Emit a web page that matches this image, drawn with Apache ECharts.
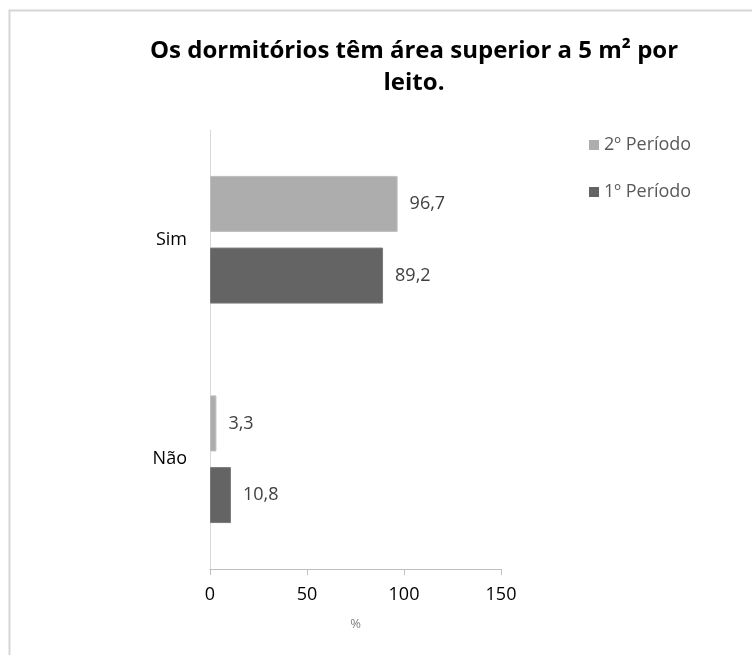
<!DOCTYPE html>
<html><head><meta charset="utf-8">
<script src="https://cdn.jsdelivr.net/npm/echarts@6/dist/echarts.min.js"></script>
<style>html,body{margin:0;padding:0;background:#fff}#c{width:752px;height:655px}</style>
</head><body><div id="c"></div>
<script>
var categories = ['Não', 'Sim'];
var periodo2 = [3.3, 96.7];
var periodo1 = [10.8, 89.2];
var seriesNames = ['2º Período', '1º Período'];
var xTicks = [0, 50, 100, 150];

var chart = echarts.init(document.getElementById('c'), null, {renderer: 'canvas'});
var font = '"Open Sans", "DejaVu Sans", sans-serif';
function fmt(p){ return String(p.value).replace('.', ','); }
chart.setOption({
  animation: false,
  backgroundColor: '#fff',
  graphic: [{
    type: 'rect', left: 7, top: 8, shape: {width: 800, height: 700},
    style: {fill: 'none', stroke: '#d6d6d6', lineWidth: 2}, silent: true
  }],
  title: {
    text: 'Os dormitórios têm área superior a 5 m² por\nleito.',
    left: 409, top: 30, textAlign: 'center',
    textStyle: {fontFamily: font, fontWeight: 'bold', fontSize: 24, color: '#000', lineHeight: 32}
  },
  legend: {
    data: [seriesNames[0], seriesNames[1]],
    orient: 'vertical', left: 584, top: 131,
    itemWidth: 10, itemHeight: 10, itemGap: 29, icon: 'rect',
    itemStyle: {borderWidth: 0},
    textStyle: {fontFamily: font, fontSize: 18, color: '#595959'}
  },
  grid: {left: 210, right: 251, top: 130, bottom: 86, containLabel: false},
  xAxis: {
    type: 'value', min: xTicks[0], max: xTicks[xTicks.length - 1], interval: 50,
    name: '%', nameLocation: 'middle', nameGap: 49,
    nameTextStyle: {fontFamily: font, fontSize: 13, color: '#808080'},
    axisLine: {show: true, lineStyle: {color: '#bfbfbf'}},
    axisTick: {show: true, length: 6, lineStyle: {color: '#bfbfbf'}},
    axisLabel: {fontFamily: font, fontSize: 18, color: '#000', margin: 17},
    splitLine: {show: false}
  },
  yAxis: {
    type: 'category', data: categories,
    axisLine: {show: true, lineStyle: {color: '#d9d9d9'}},
    axisTick: {show: false},
    axisLabel: {fontFamily: font, fontSize: 18, color: '#000', margin: 23}
  },
  series: [
    {name: seriesNames[0], type: 'bar', data: periodo2, barWidth: 56, barGap: '28%',
     itemStyle: {color: '#adadad', borderColor: '#bdbdbd', borderWidth: 1},
     label: {show: true, position: 'right', distance: 12, formatter: fmt,
             fontFamily: font, fontSize: 18, color: '#404040'}},
    {name: seriesNames[1], type: 'bar', data: periodo1, barWidth: 56, barGap: '28%',
     itemStyle: {color: '#646464', borderColor: '#7a7a7a', borderWidth: 1},
     label: {show: true, position: 'right', distance: 12, formatter: fmt,
             fontFamily: font, fontSize: 18, color: '#404040'}}
  ]
});
</script></body></html>
